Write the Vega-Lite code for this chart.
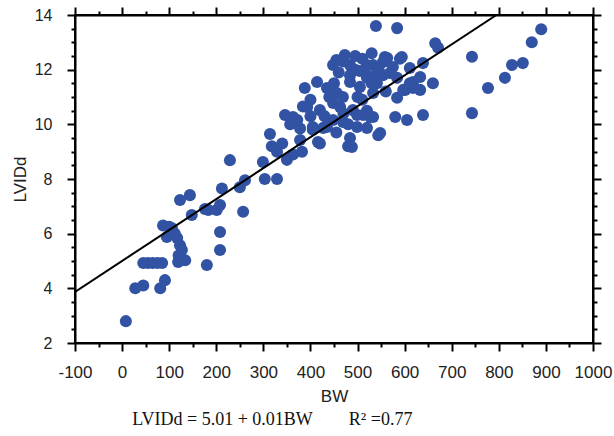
{
  "$schema": "https://vega.github.io/schema/vega-lite/v6.json",
  "width": 518,
  "height": 328,
  "autosize": "none",
  "padding": {"left": 75, "top": 15, "right": 21, "bottom": 93},
  "background": "white",
  "title": {
    "text": "LVIDd = 5.01 + 0.01BW\u00a0\u00a0\u00a0\u00a0\u00a0\u00a0\u00a0\u00a0R² =0.77",
    "orient": "bottom",
    "anchor": "start",
    "dx": 121,
    "offset": 7,
    "font": "Liberation Serif",
    "fontSize": 18,
    "fontWeight": "normal",
    "color": "#111"
  },
  "config": {
    "view": {"stroke": "black", "strokeWidth": 2},
    "axis": {
      "grid": false,
      "domainColor": "black",
      "domainWidth": 2,
      "tickColor": "black",
      "tickWidth": 2,
      "labelFont": "Liberation Sans",
      "labelFontSize": 17,
      "labelColor": "#222",
      "labelFlush": false,
      "titleFont": "Liberation Sans",
      "titleFontSize": 17,
      "titleFontWeight": "normal",
      "titleColor": "#222",
      "labelOverlap": false
    }
  },
  "datasets": {
    "pts": [
      {"BW": 8, "LVIDd": 2.8}, {"BW": 28, "LVIDd": 4.0}, {"BW": 45, "LVIDd": 4.1}, {"BW": 81, "LVIDd": 4.0}, {"BW": 91, "LVIDd": 4.3},
      {"BW": 45, "LVIDd": 4.93}, {"BW": 55, "LVIDd": 4.93}, {"BW": 65, "LVIDd": 4.93}, {"BW": 75, "LVIDd": 4.93}, {"BW": 85, "LVIDd": 4.93},
      {"BW": 119, "LVIDd": 4.96}, {"BW": 134, "LVIDd": 5.03}, {"BW": 180, "LVIDd": 4.85}, {"BW": 208, "LVIDd": 5.4}, {"BW": 208, "LVIDd": 6.06},
      {"BW": 87, "LVIDd": 6.3}, {"BW": 100, "LVIDd": 6.25}, {"BW": 106, "LVIDd": 6.2}, {"BW": 95, "LVIDd": 5.88}, {"BW": 112, "LVIDd": 6.0},
      {"BW": 117, "LVIDd": 5.84}, {"BW": 123, "LVIDd": 5.58}, {"BW": 127, "LVIDd": 5.4}, {"BW": 120, "LVIDd": 5.2},
      {"BW": 123, "LVIDd": 7.23}, {"BW": 144, "LVIDd": 7.41}, {"BW": 148, "LVIDd": 6.68}, {"BW": 176, "LVIDd": 6.9}, {"BW": 183, "LVIDd": 6.87},
      {"BW": 201, "LVIDd": 6.87}, {"BW": 208, "LVIDd": 7.05}, {"BW": 212, "LVIDd": 7.65}, {"BW": 257, "LVIDd": 6.8}, {"BW": 250, "LVIDd": 7.7},
      {"BW": 261, "LVIDd": 7.95}, {"BW": 229, "LVIDd": 8.69}, {"BW": 299, "LVIDd": 8.62}, {"BW": 303, "LVIDd": 8.0}, {"BW": 329, "LVIDd": 8.0},
      {"BW": 314, "LVIDd": 9.65}, {"BW": 318, "LVIDd": 9.2}, {"BW": 340, "LVIDd": 9.3}, {"BW": 329, "LVIDd": 9.0}, {"BW": 350, "LVIDd": 8.7},
      {"BW": 363, "LVIDd": 8.9}, {"BW": 346, "LVIDd": 10.34}, {"BW": 363, "LVIDd": 10.27}, {"BW": 357, "LVIDd": 10.0}, {"BW": 378, "LVIDd": 9.85},
      {"BW": 384, "LVIDd": 10.65}, {"BW": 388, "LVIDd": 11.33}, {"BW": 416, "LVIDd": 9.35}, {"BW": 378, "LVIDd": 9.43}, {"BW": 405, "LVIDd": 9.8},
      {"BW": 480, "LVIDd": 9.2}, {"BW": 420, "LVIDd": 9.3}, {"BW": 382, "LVIDd": 9.0}, {"BW": 427, "LVIDd": 9.87}, {"BW": 484, "LVIDd": 9.5},
      {"BW": 520, "LVIDd": 9.87}, {"BW": 499, "LVIDd": 10.34}, {"BW": 520, "LVIDd": 10.5}, {"BW": 372, "LVIDd": 10.16}, {"BW": 456, "LVIDd": 11.15},
      {"BW": 414, "LVIDd": 11.55}, {"BW": 473, "LVIDd": 12.54}, {"BW": 448, "LVIDd": 12.17}, {"BW": 484, "LVIDd": 12.17}, {"BW": 520, "LVIDd": 12.17},
      {"BW": 554, "LVIDd": 12.28}, {"BW": 590, "LVIDd": 12.4}, {"BW": 563, "LVIDd": 12.43}, {"BW": 510, "LVIDd": 12.4}, {"BW": 533, "LVIDd": 12.17},
      {"BW": 558, "LVIDd": 12.46}, {"BW": 594, "LVIDd": 12.46}, {"BW": 469, "LVIDd": 12.3}, {"BW": 495, "LVIDd": 12.0}, {"BW": 460, "LVIDd": 11.9},
      {"BW": 435, "LVIDd": 11.33}, {"BW": 611, "LVIDd": 12.06}, {"BW": 618, "LVIDd": 11.55}, {"BW": 584, "LVIDd": 11.7}, {"BW": 601, "LVIDd": 11.26},
      {"BW": 618, "LVIDd": 11.33}, {"BW": 584, "LVIDd": 10.97}, {"BW": 505, "LVIDd": 11.37}, {"BW": 541, "LVIDd": 11.5}, {"BW": 484, "LVIDd": 11.8},
      {"BW": 520, "LVIDd": 11.8}, {"BW": 554, "LVIDd": 11.8}, {"BW": 469, "LVIDd": 11.0}, {"BW": 448, "LVIDd": 10.78}, {"BW": 420, "LVIDd": 10.52},
      {"BW": 393, "LVIDd": 10.63}, {"BW": 463, "LVIDd": 10.63}, {"BW": 490, "LVIDd": 10.52}, {"BW": 512, "LVIDd": 10.34}, {"BW": 448, "LVIDd": 10.16},
      {"BW": 469, "LVIDd": 10.09}, {"BW": 435, "LVIDd": 9.9}, {"BW": 405, "LVIDd": 9.9}, {"BW": 499, "LVIDd": 9.9}, {"BW": 527, "LVIDd": 10.27},
      {"BW": 484, "LVIDd": 11.55}, {"BW": 520, "LVIDd": 11.7}, {"BW": 541, "LVIDd": 11.88}, {"BW": 569, "LVIDd": 11.88}, {"BW": 611, "LVIDd": 11.5},
      {"BW": 597, "LVIDd": 11.26}, {"BW": 533, "LVIDd": 11.15}, {"BW": 633, "LVIDd": 11.73}, {"BW": 633, "LVIDd": 11.26}, {"BW": 533, "LVIDd": 10.27},
      {"BW": 548, "LVIDd": 9.68}, {"BW": 488, "LVIDd": 9.17}, {"BW": 544, "LVIDd": 9.6}, {"BW": 580, "LVIDd": 10.27}, {"BW": 605, "LVIDd": 10.16},
      {"BW": 639, "LVIDd": 10.34}, {"BW": 660, "LVIDd": 11.5}, {"BW": 639, "LVIDd": 12.24}, {"BW": 665, "LVIDd": 12.97}, {"BW": 671, "LVIDd": 12.8},
      {"BW": 539, "LVIDd": 13.6}, {"BW": 584, "LVIDd": 13.52}, {"BW": 743, "LVIDd": 12.47}, {"BW": 777, "LVIDd": 11.33}, {"BW": 813, "LVIDd": 11.7},
      {"BW": 828, "LVIDd": 12.17}, {"BW": 851, "LVIDd": 12.24}, {"BW": 870, "LVIDd": 13.0}, {"BW": 890, "LVIDd": 13.48}, {"BW": 743, "LVIDd": 10.41},
      {"BW": 500, "LVIDd": 11.0}, {"BW": 450, "LVIDd": 11.5}, {"BW": 470, "LVIDd": 10.4}, {"BW": 510, "LVIDd": 10.9}, {"BW": 530, "LVIDd": 11.5},
      {"BW": 560, "LVIDd": 11.2}, {"BW": 440, "LVIDd": 11.0}, {"BW": 400, "LVIDd": 10.9}, {"BW": 430, "LVIDd": 10.3}, {"BW": 480, "LVIDd": 10.0},
      {"BW": 455, "LVIDd": 9.7}, {"BW": 400, "LVIDd": 10.3}, {"BW": 495, "LVIDd": 12.5}, {"BW": 530, "LVIDd": 12.6}, {"BW": 575, "LVIDd": 12.1},
      {"BW": 505, "LVIDd": 11.95}, {"BW": 455, "LVIDd": 12.35}, {"BW": 545, "LVIDd": 12.1}
    ],
    "fit": [
      {"BW": -100, "LVIDd": 3.87},
      {"BW": 795, "LVIDd": 14.0}
    ]
  },
  "resolve": {"scale": {"x": "independent", "y": "independent"}, "axis": {"x": "independent", "y": "independent"}},
  "layer": [
    {
      "data": {"name": "pts"},
      "mark": {"type": "circle", "size": 145, "color": "#3253a4", "opacity": 1},
      "encoding": {
        "x": {
          "field": "BW", "type": "quantitative",
          "scale": {"domain": [-100, 1000], "nice": false, "zero": false},
          "axis": {
            "orient": "bottom",
            "title": "BW",
            "values": [-100, 0, 100, 200, 300, 400, 500, 600, 700, 800, 900, 1000],
            "labelExpr": "'' + datum.value",
            "tickSize": 8,
            "labelPadding": 13,
            "titlePadding": 8
          }
        },
        "y": {
          "field": "LVIDd", "type": "quantitative",
          "scale": {"domain": [2, 14], "nice": false, "zero": false},
          "axis": {
            "orient": "left",
            "title": "LVIDd",
            "values": [2, 4, 6, 8, 10, 12, 14],
            "labelExpr": "'' + datum.value",
            "labelFontSize": 16,
            "tickSize": 8,
            "labelPadding": 15,
            "titlePadding": 5
          }
        }
      }
    },
    {
      "data": {"name": "fit"},
      "mark": {"type": "line", "color": "black", "strokeWidth": 2, "clip": true},
      "encoding": {
        "x": {
          "field": "BW", "type": "quantitative",
          "scale": {"domain": [-100, 1000], "nice": false, "zero": false},
          "axis": {
            "orient": "top", "title": null, "labels": false, "tickSize": 8,
            "values": [-100, 0, 100, 200, 300, 400, 500, 600, 700, 800, 900, 1000]
          }
        },
        "y": {
          "field": "LVIDd", "type": "quantitative",
          "scale": {"domain": [2, 14], "nice": false, "zero": false},
          "axis": {
            "orient": "right", "title": null, "labels": false, "tickSize": 8,
            "values": [2, 4, 6, 8, 10, 12, 14]
          }
        }
      }
    },
    {
      "mark": {"type": "rule", "color": "#555", "strokeWidth": 1.5, "strokeDash": [1.5, 1]},
      "encoding": {
        "x": {
          "datum": 0, "type": "quantitative",
          "scale": {"domain": [-100, 1000], "nice": false, "zero": false},
          "axis": {
            "orient": "bottom", "title": null, "labels": false, "domain": false, "tickSize": 4,
            "values": [-50, 50, 150, 250, 350, 450, 550, 650, 750, 850, 950]
          }
        },
        "y": {
          "datum": 2, "type": "quantitative",
          "scale": {"domain": [2, 14], "nice": false, "zero": false},
          "axis": {
            "orient": "left", "title": null, "labels": false, "domain": false, "tickSize": 4,
            "values": [2.5, 3, 3.5, 4.5, 5, 5.5, 6.5, 7, 7.5, 8.5, 9, 9.5, 10.5, 11, 11.5, 12.5, 13, 13.5]
          }
        },
        "y2": {"datum": 14}
      }
    },
    {
      "mark": {"type": "rule", "opacity": 0},
      "encoding": {
        "x": {
          "datum": 0, "type": "quantitative",
          "scale": {"domain": [-100, 1000], "nice": false, "zero": false},
          "axis": {
            "orient": "top", "title": null, "labels": false, "domain": false, "tickSize": 4,
            "values": [-50, 50, 150, 250, 350, 450, 550, 650, 750, 850, 950]
          }
        },
        "y": {
          "datum": 2, "type": "quantitative",
          "scale": {"domain": [2, 14], "nice": false, "zero": false},
          "axis": {
            "orient": "right", "title": null, "labels": false, "domain": false, "tickSize": 4,
            "values": [2.5, 3, 3.5, 4.5, 5, 5.5, 6.5, 7, 7.5, 8.5, 9, 9.5, 10.5, 11, 11.5, 12.5, 13, 13.5]
          }
        },
        "y2": {"datum": 14}
      }
    }
  ]
}
